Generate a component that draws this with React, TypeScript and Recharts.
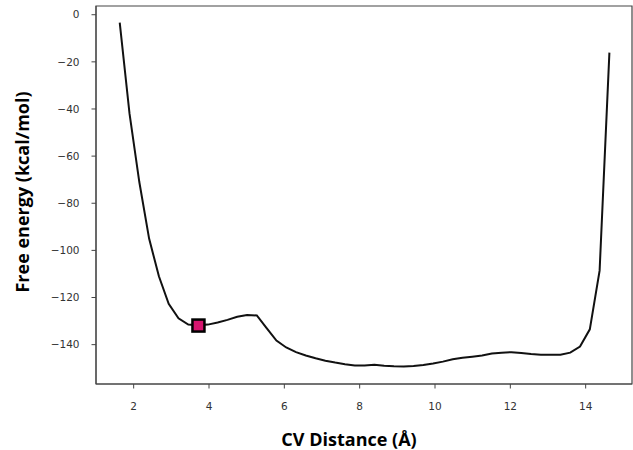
import React from 'react';
import { ComposedChart, Line, Scatter, XAxis, YAxis, Label, ReferenceArea } from 'recharts';

// CV distance (Å) and free energy (kcal/mol)
const distances = [
  1.63, 1.89, 2.15, 2.41, 2.67, 2.93, 3.19, 3.45, 3.71, 3.97, 4.23, 4.49, 4.75, 5.01, 5.27, 5.53,
  5.79, 6.05, 6.31, 6.57, 6.83, 7.09, 7.35, 7.61, 7.87, 8.13, 8.39, 8.65, 8.91, 9.17, 9.43, 9.69,
  9.95, 10.21, 10.47, 10.73, 10.99, 11.25, 11.51, 11.77, 12.03, 12.29, 12.55, 12.81, 13.07, 13.33,
  13.59, 13.85, 14.11, 14.37, 14.63,
];
const freeEnergy = [
  -3.4, -42, -71, -95, -111, -122.7, -128.8, -131.5, -131.8, -131.5, -130.6, -129.5, -128.2, -127.4,
  -127.6, -133, -138.3, -141.2, -143.2, -144.6, -145.8, -146.8, -147.6, -148.3, -148.8, -148.8,
  -148.5, -149.0, -149.2, -149.3, -149.1, -148.6, -148.0, -147.2, -146.2, -145.6, -145.1, -144.6,
  -143.8, -143.4, -143.2, -143.5, -144.0, -144.3, -144.3, -144.3, -143.4, -140.8, -133.5, -108.6,
  -16.1,
];

// highlighted state
const markerX = [3.72];
const markerY = [-131.9];

const xTicks = [2, 4, 6, 8, 10, 12, 14];
const yTicks = [0, -20, -40, -60, -80, -100, -120, -140];

const xDomain = [1.0, 15.23];
const yDomain = [-156.7, 3.7];

const profile = distances.map((x, i) => ({ x, y: freeEnergy[i] }));
const markers = markerX.map((x, i) => ({ x, y: markerY[i] }));

const axisColor = '#444';
const tickStyle = { fontFamily: 'DejaVu Sans', fontSize: 10.5, fill: '#333' };
const titleFont = "'Open Sans', sans-serif";

const formatTick = (v: number) => (v < 0 ? `\u2212${Math.abs(v)}` : `${v}`);

const SquareMarker = (props: any) => {
  const { cx, cy } = props;
  return <rect x={cx - 6} y={cy - 6} width={12} height={12} fill="#d6146e" stroke="#000" strokeWidth={2.5} />;
};

const App: React.FC = () => {
  return (
    <div style={{ position: 'absolute', left: 0, top: 0, background: '#fff' }}>
      <ComposedChart width={633} height={450} data={profile} margin={{ top: 6, right: 1, bottom: 0, left: 0 }}>
        {/* box around the plot, like matplotlib spines */}
        <ReferenceArea
          x1={xDomain[0]}
          x2={xDomain[1]}
          y1={yDomain[0]}
          y2={yDomain[1]}
          fill="none"
          fillOpacity={0}
          stroke={axisColor}
          strokeWidth={1.2}
          ifOverflow="visible"
        />
        <XAxis
          dataKey="x"
          type="number"
          domain={xDomain}
          allowDataOverflow
          ticks={xTicks}
          height={66}
          tickSize={4.5}
          tickMargin={14}
          tick={tickStyle}
          stroke={axisColor}
          tickLine={{ stroke: axisColor }}
        >
          <Label
            content={({ viewBox }: any) => (
              <text
                x={viewBox.x + viewBox.width / 2 - 15}
                y={446}
                textAnchor="middle"
                fontFamily={titleFont}
                fontWeight="bold"
                fontSize={18}
                fill="#000"
              >
                CV Distance (Å)
              </text>
            )}
          />
        </XAxis>
        <YAxis
          type="number"
          domain={yDomain}
          allowDataOverflow
          ticks={yTicks}
          width={96}
          tickSize={4.5}
          tickMargin={12}
          tick={tickStyle}
          tickFormatter={formatTick}
          stroke={axisColor}
          tickLine={{ stroke: axisColor }}
        >
          <Label
            content={({ viewBox }: any) => {
              const cx = 21.5;
              const cy = viewBox.y + viewBox.height / 2 - 3;
              return (
                <text
                  x={cx}
                  y={cy}
                  transform={`rotate(-90 ${cx} ${cy})`}
                  textAnchor="middle"
                  dominantBaseline="central"
                  fontFamily={titleFont}
                  fontWeight="bold"
                  fontSize={18}
                  fill="#000"
                >
                  Free energy (kcal/mol)
                </text>
              );
            }}
          />
        </YAxis>
        <Line
          type="linear"
          dataKey="y"
          stroke="#111"
          strokeWidth={2}
          dot={false}
          activeDot={false}
          isAnimationActive={false}
        />
        <Scatter data={markers} dataKey="y" shape={<SquareMarker />} isAnimationActive={false} />
      </ComposedChart>
    </div>
  );
};

export default App;
